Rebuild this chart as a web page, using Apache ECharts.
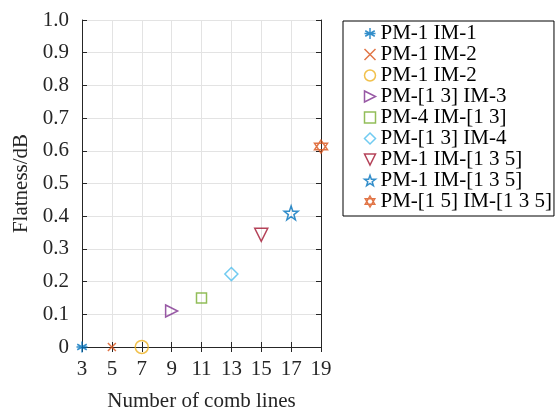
<!DOCTYPE html>
<html><head><meta charset="utf-8">
<script src="https://cdn.jsdelivr.net/npm/echarts@6/dist/echarts.min.js"></script>
<style>html,body{margin:0;padding:0;background:#fff}#c{width:556px;height:408px}</style>
</head><body><div id="c"></div>
<script>
const categories = ['3','5','7','9','11','13','15','17','19'];
const seriesNames = ['PM-1 IM-1','PM-1 IM-2','PM-1 IM-2','PM-[1 3] IM-3','PM-4 IM-[1 3]','PM-[1 3] IM-4','PM-1 IM-[1 3 5]','PM-1 IM-[1 3 5]','PM-[1 5] IM-[1 3 5]'];
const seriesX = ['3','5','7','9','11','13','15','17','19'];
const seriesY = [0, 0, 0, 0.11, 0.15, 0.223, 0.343, 0.41, 0.613];
const yTicks = [0,0.1,0.2,0.3,0.4,0.5,0.6,0.7,0.8,0.9,1.0];

const colors = ['#0072BD','#D95319','#EDB120','#7E2F8E','#77AC30','#4DBEEE','#A2142F','#0072BD','#D95319'];
function starPath(n, rOut, rIn){
  let p='';
  for(let i=0;i<2*n;i++){
    const r = i%2===0?rOut:rIn;
    const a = -Math.PI/2 + i*Math.PI/n;
    p += (i===0?'M':'L') + (r*Math.cos(a)).toFixed(3)+','+(r*Math.sin(a)).toFixed(3);
  }
  return 'path://'+p+'Z';
}
const symbols = [
  'path://M0,-1L0,1M-0.866,-0.5L0.866,0.5M-0.866,0.5L0.866,-0.5M-1,0L1,0',
  'path://M-1,-1L1,1M-1,1L1,-1',
  'circle',
  'path://M-1,-1L1,0L-1,1Z',
  'rect',
  'diamond',
  'path://M-1,-1L1,-1L0,1Z',
  starPath(5,1,0.4),
  'path://M0,-1L0.866,0.5L-0.866,0.5ZM0,1L-0.866,-0.5L0.866,-0.5Z'
];
const sizes = [11,8,13,12,10,13,13,14,13];
const FONT = '"Liberation Serif","Times New Roman",serif';
const FS = 21;

// make duplicate names unique for the legend (invisible suffix)
const seen = {};
const uniqNames = seriesNames.map(n => { seen[n] = (seen[n]||0)+1; return n + '\u200b'.repeat(seen[n]-1); });

const series = uniqNames.map((nm,i)=>({
  name: nm,
  type: 'scatter',
  xAxisIndex: 0, yAxisIndex: 0,
  data: [[seriesX[i], seriesY[i]]],
  symbol: symbols[i],
  symbolSize: sizes[i],
  itemStyle: {color: 'none', borderColor: colors[i], borderWidth: 1.5},
  z: 10
}));

const chart = echarts.init(document.getElementById('c'), null, {renderer:'canvas'});
chart.setOption({
  animation: false,
  backgroundColor: '#fff',
  grid: {left: 82, right: 235, top: 20, bottom: 61, show: false, containLabel: false, outerBoundsMode: 'none'},
  legend: {
    orient: 'vertical', left: 343, top: 21,
    data: uniqNames.map((n,i)=>({name:n, icon: symbols[i],
      itemStyle:{color:'none', borderColor: colors[i], borderWidth: 1.5}})),
    itemWidth: 11, itemHeight: 11, itemGap: 0,
    padding: [2, 2, 4, 19],
    borderColor: '#000', borderWidth: 1,
    textStyle: {fontFamily: FONT, fontSize: FS, color: '#000', lineHeight: 21},
    selectedMode: false
  },
  xAxis: [{
    type: 'category', data: categories, boundaryGap: false,
    name: 'Number of comb lines', nameLocation: 'middle', nameGap: 44,
    nameTextStyle: {fontFamily: FONT, fontSize: FS, color: '#262626'},
    axisLine: {show: true, lineStyle: {color: '#262626', width: 1}},
    axisTick: {show: true, inside: true, length: 5, alignWithLabel: true, lineStyle: {color: '#262626'}},
    axisLabel: {fontFamily: FONT, fontSize: FS, color: '#262626', margin: 12},
    splitLine: {show: true, lineStyle: {color: '#e3e3e3', width: 1}}
  },{
    type: 'category', data: categories, boundaryGap: false, position: 'top',
    axisLine: {show: true, lineStyle: {color: '#262626', width: 1}},
    axisTick: {show: true, inside: true, length: 5, lineStyle: {color: '#262626'}},
    axisLabel: {show: false}, splitLine: {show: false}
  }],
  yAxis: [{
    type: 'value', min: 0, max: 1, interval: 0.1,
    name: 'Flatness/dB', nameLocation: 'middle', nameGap: 50,
    nameTextStyle: {fontFamily: FONT, fontSize: FS, color: '#262626'},
    axisLine: {show: true, lineStyle: {color: '#262626', width: 1}},
    axisTick: {show: true, inside: true, length: 5, lineStyle: {color: '#262626'}},
    axisLabel: {fontFamily: FONT, fontSize: FS, color: '#262626', margin: 13,
      formatter: v => (Math.abs(v) < 1e-9 ? '0' : v.toFixed(1))},
    splitLine: {show: true, lineStyle: {color: '#e3e3e3', width: 1}}
  },{
    type: 'value', min: 0, max: 1, interval: 0.1, position: 'right',
    axisLine: {show: true, lineStyle: {color: '#262626', width: 1}},
    axisTick: {show: true, inside: true, length: 5, lineStyle: {color: '#262626'}},
    axisLabel: {show: false}, splitLine: {show: false}
  }],
  series: series
});
</script>
</body></html>
